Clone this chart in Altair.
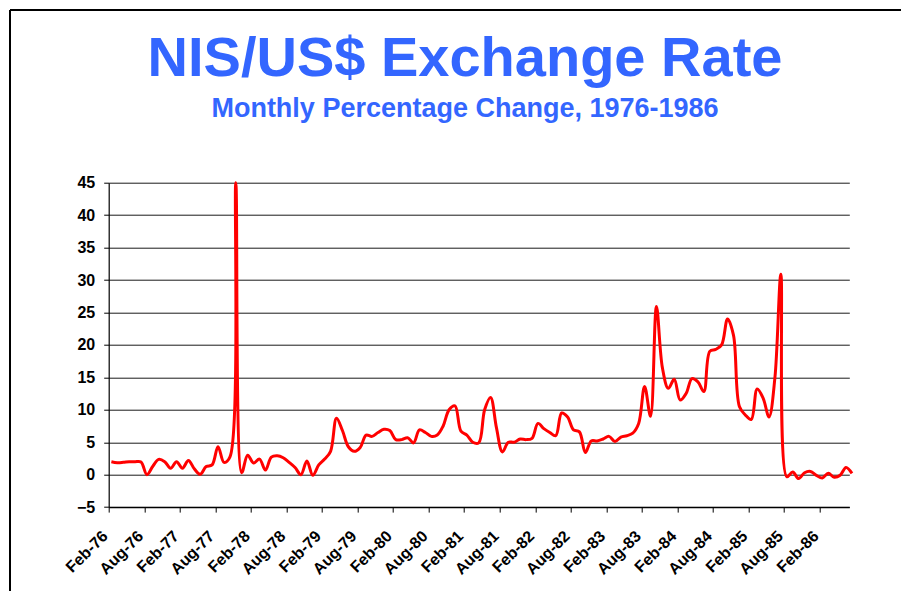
import altair as alt
import pandas as pd

# Monthly percentage change of the NIS/US$ rate, Feb-76 .. Jul-86
rate = [2.0, 1.85, 1.9, 2.0, 2.0, 1.95, 0.0, 1.3, 2.35, 2.0,
        1.0, 2.0, 1.0, 2.2, 0.9, 0.05, 1.25, 1.5, 4.3, 1.9,
        2.7, 45.0, 0.3, 3.0, 1.8, 2.4, 0.7, 2.7, 2.9, 2.6,
        1.9, 1.1, 0.0, 2.1, -0.1, 1.5, 2.4, 3.6, 8.7, 6.8,
        4.3, 3.6, 4.2, 6.1, 5.9, 6.5, 7.0, 6.8, 5.4, 5.4,
        5.7, 4.9, 6.9, 6.5, 5.9, 6.1, 7.5, 10.0, 10.6, 6.7,
        6.1, 5.0, 4.9, 10.0, 11.9, 7.2, 3.5, 5.0, 5.0, 5.5,
        5.4, 5.6, 7.9, 7.1, 6.5, 6.0, 9.5, 8.9, 6.9, 6.6,
        3.4, 5.2, 5.2, 5.5, 5.9, 5.1, 5.8, 6.0, 6.4, 7.9,
        13.6, 9.0, 25.9, 16.5, 13.3, 14.7, 11.5, 12.5, 14.8, 14.3,
        12.8, 19.0, 19.3, 20.0, 24.0, 21.5, 10.5, 9.2, 8.5, 13.2,
        11.8, 8.9, 15.0, 30.9, -0.3, 0.4, -0.6, 0.3, 0.5, -0.1,
        -0.5, 0.2, -0.4, -0.1, 1.1, 0.2]

months = pd.period_range("1976-02", periods=len(rate), freq="M").strftime("%b-%y").tolist()

tick_labels = ["Feb-76", "Aug-76", "Feb-77", "Aug-77", "Feb-78", "Aug-78", "Feb-79",
               "Aug-79", "Feb-80", "Aug-80", "Feb-81", "Aug-81", "Feb-82", "Aug-82",
               "Feb-83", "Aug-83", "Feb-84", "Aug-84", "Feb-85", "Aug-85", "Feb-86"]
y_ticks = [-5, 0, 5, 10, 15, 20, 25, 30, 35, 40, 45]

df = pd.DataFrame({"idx": list(range(len(rate))), "month": months, "rate": rate})

label_expr = "[" + ",".join("'%s'" % t for t in tick_labels) + "][round(datum.value / 6)]"
font = "Liberation Sans, Arial, sans-serif"

W, H = 740.6, 324.4
PAD = {"left": 100.7, "top": 174.7, "right": 51.7, "bottom": 83.9}

line = alt.Chart(df).transform_calculate(
    pos="datum.idx + 0.45"
).mark_line(
    color="#FF0000", strokeWidth=3, interpolate="catmull-rom", clip=False
).encode(
    x=alt.X("pos:Q",
            scale=alt.Scale(domain=[0, 125], nice=False, zero=False),
            axis=alt.Axis(values=[6 * i for i in range(len(tick_labels))],
                          labelExpr=label_expr, labelAngle=-45,
                          labelAlign="right", labelBaseline="middle",
                          labelPadding=21, labelOffset=-4,
                          labelFont=font, labelFontSize=16,
                          labelFontWeight="bold", labelColor="black",
                          labelOverlap=False, labelBound=False, labelFlush=False,
                          tickColor="black", tickSize=5, tickWidth=1,
                          domainColor="black", domainWidth=1.2,
                          grid=False, title=None)),
    y=alt.Y("rate:Q",
            scale=alt.Scale(domain=[-5, 45], nice=False, zero=False),
            axis=alt.Axis(values=y_ticks, grid=True, gridColor="black",
                          gridWidth=1, gridOpacity=0.9,
                          labelFont=font, labelFontSize=16, labelFontWeight="bold",
                          labelColor="black", labelPadding=9,
                          tickColor="black", tickSize=5,
                          domainColor="black", domainWidth=1.2, title=None)),
    tooltip=["month:N", "rate:Q"],
)

frame = alt.Data(values=[{"f": 1}])
top_rule = alt.Chart(frame).mark_rule(color="black", strokeWidth=2, clip=False).encode(
    x=alt.value(-98.7), x2=alt.value(W + PAD["right"]), y=alt.value(-172.7))
left_rule = alt.Chart(frame).mark_rule(color="black", strokeWidth=2, clip=False).encode(
    x=alt.value(-98.7), y=alt.value(-172.7), y2=alt.value(H + PAD["bottom"]))

chart = alt.layer(top_rule, left_rule, line).properties(
    width=W, height=H,
    padding=PAD,
    autosize=alt.AutoSizeParams(type="none"),
    title=alt.TitleParams(
        text="NIS/US$ Exchange Rate",
        subtitle="Monthly Percentage Change, 1976-1986",
        font=font, fontSize=56, fontWeight="bold", color="#3366FF",
        subtitleFont=font, subtitleFontSize=27, subtitleFontWeight="bold",
        subtitleColor="#3366FF", subtitlePadding=8,
        anchor="middle", frame="group", dx=-14, offset=-114,
    ),
).configure_view(stroke=None)

chart.save("out.html", embed_options={"renderer": "svg", "actions": False})
